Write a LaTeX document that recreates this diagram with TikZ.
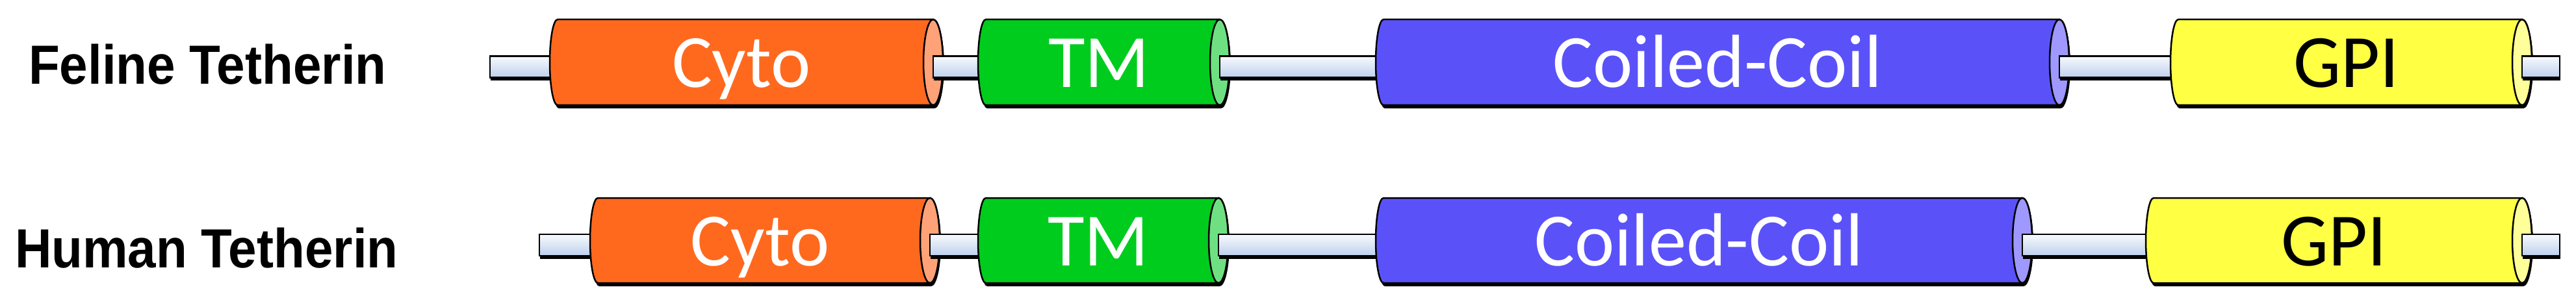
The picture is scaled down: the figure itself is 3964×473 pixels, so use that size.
\documentclass[tikz,border=0pt]{standalone}
\usepackage{fontspec}
\setmainfont{Carlito}
\newfontfamily\labfont{Liberation Sans}
\usetikzlibrary{calc}
\definecolor{cytoC}{RGB}{255,105,30}
\definecolor{cytoCap}{RGB}{255,162,120}
\definecolor{tmC}{RGB}{0,204,30}
\definecolor{tmCap}{RGB}{110,224,130}
\definecolor{ccC}{RGB}{90,82,248}
\definecolor{ccCap}{RGB}{158,152,255}
\definecolor{gpiC}{RGB}{255,255,68}
\definecolor{gpiCap}{RGB}{255,255,153}
\definecolor{rodtop}{RGB}{248,250,254}
\definecolor{rodbot}{RGB}{190,208,236}
\tikzset{
  rodbar/.style={top color=rodtop, bottom color=rodbot, draw=black, line width=2.5pt},
  cylout/.style={draw=black, line width=2.5pt},
  cyllabel/.style={anchor=base, inner sep=0pt, font=\fontsize{116pt}{120pt}\selectfont},
  rowlabel/.style={anchor=base west, inner sep=0pt, xscale=0.92, font=\labfont\bfseries\fontsize{85pt}{90pt}\selectfont}
}
% coordinates of a cylinder: name, L, C, T, B
\newcommand\defcyl[5]{%
  \pgfmathsetmacro\cylmid{(#4+#5)/2}%
  \coordinate (#1-w) at ({#2+15},\cylmid);
  \coordinate (#1-e) at (#3,\cylmid);
}
% draw a cylinder: name, L, C, T, B, body colour, cap colour, text, text colour
\newcommand\drawcyl[9]{%
  \pgfmathsetmacro\cylry{(#5-#4)/2}%
  \pgfmathsetmacro\cylmid{(#4+#5)/2}%
  \fill[black, xshift=2pt, yshift=-5pt] (#3,#4) -- ({#2+12},#4)
     arc[start angle=90, end angle=270, x radius=12pt, y radius=\cylry pt]
     -- (#3,#5) arc[start angle=-90, end angle=90, x radius=15pt, y radius=\cylry pt] -- cycle;
  \filldraw[cylout, fill=#6] (#3,#4) -- ({#2+12},#4)
     arc[start angle=90, end angle=270, x radius=12pt, y radius=\cylry pt]
     -- (#3,#5) arc[start angle=-90, end angle=90, x radius=15pt, y radius=\cylry pt] -- cycle;
  \filldraw[cylout, fill=#7] (#3,\cylmid) ellipse[x radius=15pt, y radius=\cylry pt];
  \node[cyllabel, text=#9] (#1) at ({(#2+#3)/2},{\cylmid+39}) {#8};
}
% rod between two coordinates
\newcommand\drawrod[2]{%
  \fill[black] ($(#1)+(1,-4.5)$) rectangle ($(#2)+(1,28.5)$);
  \draw[rodbar] ($(#1)+(0,-9.5)$) rectangle ($(#2)+(0,23.5)$);
}
\begin{document}
\begin{tikzpicture}[x=1pt, y=-1pt]
\useasboundingbox (0,0) rectangle (3964,473);
\fill[white] (0,0) rectangle (3964,473);

% ---------- Feline row ----------
\node[rowlabel] (feline) at (44,130) {Feline Tetherin};
\coordinate (f0) at (754,96);
\coordinate (f5) at (3939,96);
\defcyl{fcyto}{846}{1436}{30}{162}
\defcyl{ftm}{1505}{1877}{30}{162}
\defcyl{fcc}{2117}{3169}{30}{162}
\defcyl{fgpi}{3340}{3881}{30}{162}

\drawrod{f0}{fcyto-w}
\drawcyl{fcyto}{846}{1436}{30}{162}{cytoC}{cytoCap}{Cyto}{white}
\drawrod{fcyto-e}{ftm-w}
\drawcyl{ftm}{1505}{1877}{30}{162}{tmC}{tmCap}{TM}{white}
\drawrod{ftm-e}{fcc-w}
\drawcyl{fcc}{2117}{3169}{30}{162}{ccC}{ccCap}{Coiled-Coil}{white}
\drawrod{fcc-e}{fgpi-w}
\drawcyl{fgpi}{3340}{3881}{30}{162}{gpiC}{gpiCap}{GPI}{black}
\drawrod{fgpi-e}{f5}

% ---------- Human row ----------
\node[rowlabel] (human) at (23,412) {Human Tetherin};
\coordinate (h0) at (830,370.5);
\coordinate (h5) at (3939,370.5);
\defcyl{hcyto}{908}{1431}{305}{436}
\defcyl{htm}{1505}{1875}{305}{436}
\defcyl{hcc}{2117}{3112}{305}{436}
\defcyl{hgpi}{3302}{3881}{305}{436}

\drawrod{h0}{hcyto-w}
\drawcyl{hcyto}{908}{1431}{305}{436}{cytoC}{cytoCap}{Cyto}{white}
\drawrod{hcyto-e}{htm-w}
\drawcyl{htm}{1505}{1875}{305}{436}{tmC}{tmCap}{TM}{white}
\drawrod{htm-e}{hcc-w}
\drawcyl{hcc}{2117}{3112}{305}{436}{ccC}{ccCap}{Coiled-Coil}{white}
\drawrod{hcc-e}{hgpi-w}
\drawcyl{hgpi}{3302}{3881}{305}{436}{gpiC}{gpiCap}{GPI}{black}
\drawrod{hgpi-e}{h5}
\end{tikzpicture}
\end{document}
